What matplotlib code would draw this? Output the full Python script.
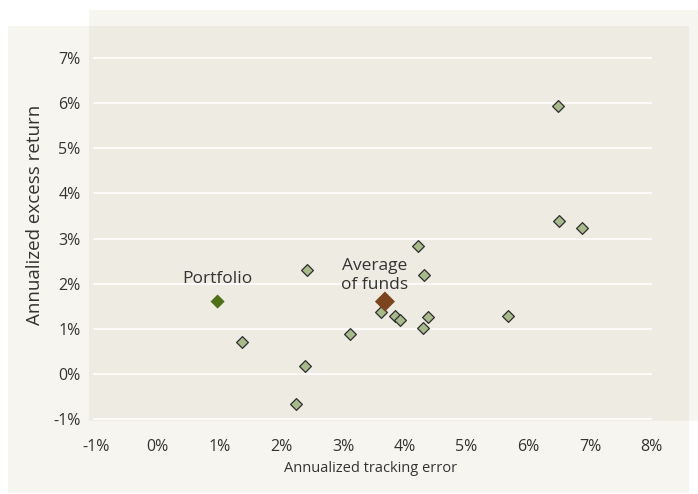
import matplotlib
matplotlib.use("Agg")
import matplotlib.pyplot as plt
from matplotlib.patches import Rectangle
from matplotlib.ticker import FuncFormatter

plt.rcParams['font.family'] = ['Open Sans', 'DejaVu Sans']

# fund scatter (annualized tracking error %, annualized excess return %)
fund_te = [6.49, 6.50, 6.88, 4.21, 4.31, 2.42, 5.68, 3.61, 3.85, 3.93, 4.37, 4.30, 3.11, 1.36, 2.38, 2.24]
fund_ret = [5.94, 3.38, 3.24, 2.84, 2.20, 2.30, 1.29, 1.36, 1.27, 1.19, 1.25, 1.02, 0.87, 0.71, 0.16, -0.67]

portfolio_te = [0.97]
portfolio_ret = [1.60]
average_te = [3.68]
average_ret = [1.60]

x_ticks = [-1, 0, 1, 2, 3, 4, 5, 6, 7, 8]
y_ticks = [-1, 0, 1, 2, 3, 4, 5, 6, 7]

W, H = 698, 494
fig = plt.figure(figsize=(W / 100, H / 100), dpi=100)
fig.patch.set_facecolor('white')

light = '#f6f5f0'
# background panels (pixel coords -> figure fraction)
def px_rect(x0, y0, x1, y1, color):
    fig.patches.append(Rectangle((x0 / W, 1 - y1 / H), (x1 - x0) / W, (y1 - y0) / H,
                                 transform=fig.transFigure, facecolor=color,
                                 edgecolor='none', zorder=-5))

px_rect(8, 26, 689, 493, light)
px_rect(89, 10, 698, 421, light)

ax = fig.add_axes([89 / W, 1 - 421 / H, 600 / W, 395 / H])
ax.set_zorder(1)
ax.set_facecolor('#eeebe2')
for s in ax.spines.values():
    s.set_visible(False)

ax.set_xlim(-1.113, 8.605)
ax.set_ylim(-1.053, 7.72)

# horizontal gridlines only across the tick range
ax.hlines(y_ticks, -1.05, 8.0, colors='white', linewidth=1.2, zorder=1)

ax.scatter(fund_te, fund_ret, marker='D', s=36, facecolor='#a8b98c',
           edgecolor='#2e2e2e', linewidth=0.9, zorder=3)
ax.scatter(portfolio_te, portfolio_ret, marker='D', s=52, facecolor='#4d7019',
           edgecolor='none', zorder=4)
ax.scatter(average_te, average_ret, marker='D', s=105, facecolor='#7b4520',
           edgecolor='none', zorder=4)

ax.text(portfolio_te[0], 1.93, 'Portfolio', ha='center', va='bottom',
        fontsize=12.5, color='#333333')
ax.text(3.52, 1.8, 'Average\nof funds', ha='center', va='bottom',
        fontsize=12.5, color='#333333', linespacing=1.25)

pct = FuncFormatter(lambda v, p: f'{v:.0f}%')
ax.set_xticks(x_ticks)
ax.set_yticks(y_ticks)
ax.xaxis.set_major_formatter(pct)
ax.yaxis.set_major_formatter(pct)
ax.tick_params(length=0, labelsize=11.5, colors='#333333')
ax.tick_params(axis='x', pad=13)
ax.tick_params(axis='y', pad=6)

fig.text(371 / W, 1 - 468 / H, 'Annualized tracking error', ha='center', va='center',
         fontsize=10.5, color='#333333')
fig.text(35 / W, 1 - 215 / H, 'Annualized excess return', ha='center', va='center',
         rotation=90, fontsize=13.5, color='#333333')

fig.savefig('out.png', dpi=100, facecolor=fig.get_facecolor())
